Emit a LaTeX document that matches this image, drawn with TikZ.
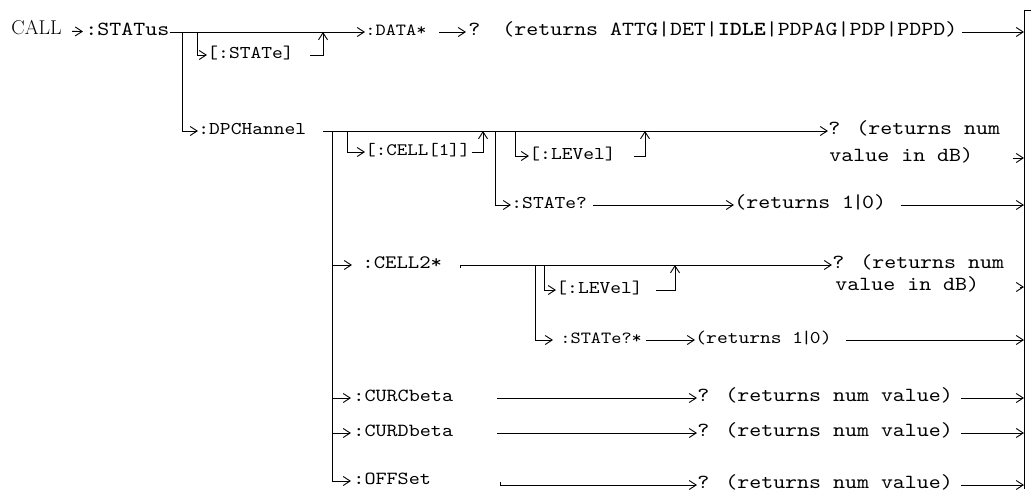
\documentclass[tikz,border=0pt]{standalone}
\usepackage{fontspec}
\usepackage{tikz}
\usetikzlibrary{arrows.meta}
\newfontfamily\cmdfont{lmmono10-regular.otf}[BoldFont=lmmonolt10-bold.otf,FakeStretch=1.14]
\newcommand\onezero{1\kern-2pt|\kern-2pt0}
\tikzset{
  >={Straight Barb[length=7pt,width=9pt]},
  lbl/.style={anchor=west,inner sep=0pt,text height=9pt,text depth=3pt},
  kw/.style={lbl,font=\cmdfont\fontsize{#1}{#1}\selectfont},
  kw/.default=18,
  ret/.style={kw=20}
}
\begin{document}
\begin{tikzpicture}[x=1pt,y=-1pt,line width=0.9pt]
\useasboundingbox (0,0) rectangle (1032,496);
% right rail
\coordinate (railtop) at (1024,10);
\coordinate (railbot) at (1024,489);
\coordinate (railtick) at (1031,10);
\draw (railtick) -- (railtop) -- (railbot);
% CALL:STATus row
\node[lbl,font=\fontsize{20}{22}\selectfont] (call) at (11,31) {CALL};
\node[kw=20] (status) at (85,32) {:STATus};
\node[kw=17] (data) at (365,32) {:DATA*};
\node[ret] (topq) at (468,32) {?};
\node[ret] (topret) at (502,32) {(returns ATTG|DET|\textbf{IDLE}|PDPAG|PDP|PDPD)};
\draw[->,shorten <=10pt,shorten >=2pt] (call) -- (status);
\draw[->] (status) -- (data);
\draw[->,shorten <=12pt,shorten >=2pt] (data) -- (topq);
\draw[->,shorten <=4pt] (topret) -- (topret -| railtop);
\coordinate (stbr) at (197,32);
\coordinate (stj) at (323,32);
\node[kw] (state) at (207,55) {[:STATe]};
\draw[->] (stbr) |- (state);
\draw[->,shorten <=16pt] (state) -| (stj);
% DPCHannel
\coordinate (dvb) at (182,32);
\node[kw] (dpc) at (198,131) {:DPCHannel};
\draw[->] (dvb) |- (dpc);
\coordinate (dpcs) at (323,131);
\coordinate (dpv) at (332,131);
\node[ret] (q1) at (828,131) {? (returns num};
\node[ret] (v1) at (829,158) {value in dB)};
\draw[->] (dpcs) -- (q1);
\draw[->,shorten <=39pt] (v1) -- (v1 -| railtop);
\coordinate (c1b) at (347,131);
\coordinate (c1j) at (483,131);
\node[kw=17.5] (c1) at (365,152) {[:CELL[1]]};
\draw[->] (c1b) |- (c1);
\draw[->,shorten <=1pt] (c1) -| (c1j);
\coordinate (lv1b) at (515,131);
\coordinate (lv1j) at (645,131);
\node[kw] (lv1) at (529,156) {[:LEVel]};
\draw[->] (lv1b) |- (lv1);
\draw[->,shorten <=18pt] (lv1) -| (lv1j);
\coordinate (st1b) at (495,131);
\node[kw] (st1) at (511,205) {:STATe?};
\node[ret] (r1) at (734,205) {(returns \onezero)};
\draw[->] (st1b) |- (st1);
\draw[->,shorten <=6pt] (st1) -- (r1);
\draw[->,shorten <=14pt] (r1) -- (r1 -| railtop);
% CELL2*
\node[kw=19] (c2) at (362,265) {:CELL2*};
\draw[->,shorten >=10pt] (dpv |- c2) -- (c2);
\coordinate (c2s) at (460,265);
\node[ret] (q2) at (832,265) {? (returns num};
\node[ret] (v2) at (835,287) {value in dB)};
\draw (c2s) -- ++(0,3);
\draw[->] (c2s) -- (q2);
\draw[->,shorten <=40pt] (v2) -- (v2 -| railtop);
\coordinate (lv2b) at (544,265);
\coordinate (lv2j) at (675,265);
\node[kw] (lv2) at (556,290) {[:LEVel]};
\draw[->] (lv2b) |- (lv2);
\draw[->,shorten <=13pt] (lv2) -| (lv2j);
\coordinate (st2b) at (535,265);
\node[kw=17] (st2) at (560,340) {:STATe?*};
\node[kw] (r2) at (695,340) {(returns \onezero)};
\draw[->,shorten >=7pt] (st2b) |- (st2);
\draw[->,shorten <=4pt] (st2) -- (r2);
\draw[->,shorten <=14pt] (r2) -- (r2 -| railtop);
% CURCbeta, CURDbeta, OFFSet
\foreach \nm/\lab/\y/\yr/\xs in {curc/{:CURCbeta}/398/398/497, curd/{:CURDbeta}/433/433/497, offs/{:OFFSet}/481/485/500}{
  \node[kw=18.5] (\nm) at (353,\y) {\lab};
  \coordinate (\nm st) at (\xs,\yr);
  \node[ret] (\nm rt) at (697,\yr) {? (returns num value)};
  \draw[->,shorten >=2pt] (dpv |- \nm) -- (\nm);
  \draw[->] (\nm st) -- (\nm rt);
  \draw[->,shorten <=8pt] (\nm rt) -- (\nm rt -| railtop);}
\draw (offsst) -- ++(0,-3);
\draw (dpv) -- (dpv |- offs);
\end{tikzpicture}
\end{document}
